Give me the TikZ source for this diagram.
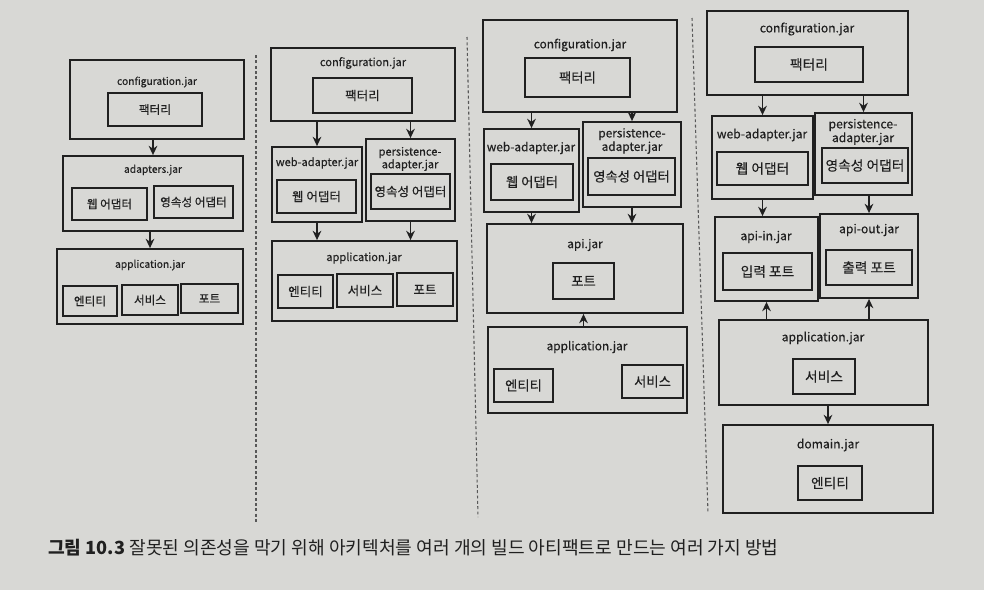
\documentclass[tikz,border=0pt]{standalone}
\usepackage{fontspec}
\setmainfont{Noto Sans CJK KR}
\newfontfamily\lblfont[FakeBold=0.35]{Noto Sans CJK KR}
\usetikzlibrary{fit,arrows.meta}
\definecolor{paper}{RGB}{216,216,213}
\definecolor{ink}{RGB}{32,32,32}
\tikzset{
  jar/.style={draw=ink, line width=1.35pt, inner sep=0pt, rectangle},
  part/.style={draw=ink, line width=1.35pt, inner sep=0pt, rectangle},
  ttl/.style={text=ink, inner sep=0pt, align=center},
  dep/.style={draw=ink, line width=1.1pt, -{Stealth[length=7pt,width=6.5pt]}},
  sepline/.style={draw=ink!75, line width=0.8pt, dash pattern=on 2.2pt off 1.8pt},
  fa/.style={font=\lblfont\fontsize{7.7}{7.4}\selectfont},
  fb/.style={font=\lblfont\fontsize{8.3}{8.2}\selectfont},
  fc/.style={font=\lblfont\fontsize{8.9}{8.8}\selectfont},
  fd/.style={font=\lblfont\fontsize{9.1}{8.6}\selectfont},
  ka/.style={ttl, font=\lblfont\fontsize{8.7}{9}\selectfont},
  kb/.style={ttl, font=\lblfont\fontsize{9.4}{9}\selectfont},
  kc/.style={ttl, font=\lblfont\fontsize{10}{10}\selectfont},
  kd/.style={ttl, font=\lblfont\fontsize{10.3}{10}\selectfont},
}
\begin{document}
\begin{tikzpicture}[x=0.75pt,y=-0.75pt]
\path[fill=paper,use as bounding box] (0,0) rectangle (984,590);

% separators
\draw[sepline] (256,55) -- (256,522);
\draw[sepline] (467,37) -- (478,517);
\draw[sepline] (692,18) -- (708,513);

% ---------------- column 1
\begin{scope}[every node/.append style={fa}]
\node[jar, fit={(70,60) (244,139)}] (c1cfg) {};
\node[ttl] (c1cfgT) at (157,82) {configuration.jar};
\node[part, fit={(108,93) (202,126)}, label={[ka]center:팩터리}] (c1fac) {};
\node[jar, fit={(63,156) (243,231)}] (c1ad) {};
\node[ttl] (c1adT) at (153,170) {adapters.jar};
\node[part, fit={(72,188) (147,220)}, label={[ka]center:웹 어댑터}] (c1web) {};
\node[part, fit={(154,186) (233,218)}, label={[ka]center:영속성 어댑터}] (c1per) {};
\node[jar, fit={(57,249) (243,324)}] (c1app) {};
\node[ttl] (c1appT) at (150,265) {application.jar};
\node[part, fit={(63,286) (117,316)}, label={[ka]center:엔티티}] (c1ent) {};
\node[part, fit={(122,285) (178,315)}, label={[ka]center:서비스}] (c1svc) {};
\node[part, fit={(181,284) (238,313)}, label={[ka]center:포트}] (c1port) {};
\end{scope}
\draw[dep] (c1cfg.south -| c1ad.north) -- (c1ad.north);
\draw[dep] (c1ad.south -| c1app.north) -- (c1app.north);

% ---------------- column 2
\begin{scope}[every node/.append style={fb}]
\node[jar, fit={(271,48) (455,121)}] (c2cfg) {};
\node[ttl] (c2cfgT) at (363,63) {configuration.jar};
\node[part, fit={(313,78) (412,113)}, label={[kb]center:팩터리}] (c2fac) {};
\node[jar, fit={(272,147) (362,222)}] (c2web) {};
\node[ttl] (c2webT) at (317,163) {web-adapter.jar};
\node[part, fit={(277,180) (356,213)}, label={[kb]center:웹 어댑터}] (c2wa) {};
\node[jar, fit={(366,139) (455,221)}] (c2per) {};
\node[ttl] (c2perT) at (410,159) {persistence-\\adapter.jar};
\node[part, fit={(371,174) (450,209)}, label={[kb]center:영속성 어댑터}] (c2pa) {};
\node[jar, fit={(272,241) (457,321)}] (c2app) {};
\node[ttl] (c2appT) at (364,258) {application.jar};
\node[part, fit={(278,275) (333,308)}, label={[kb]center:엔티티}] (c2ent) {};
\node[part, fit={(337,274) (393,307)}, label={[kb]center:서비스}] (c2svc) {};
\node[part, fit={(397,273) (453,306)}, label={[kb]center:포트}] (c2port) {};
\end{scope}
\draw[dep] (c2cfg.south -| c2web.north) -- (c2web.north);
\draw[dep] (c2cfg.south -| c2per.north) -- (c2per.north);
\draw[dep] (c2web.south) -- (c2web.south |- c2app.north);
\draw[dep] (c2per.south) -- (c2per.south |- c2app.north);

% ---------------- column 3
\begin{scope}[every node/.append style={fc}]
\node[jar, fit={(483,20) (677,112)}] (c3cfg) {};
\node[ttl] (c3cfgT) at (580,45) {configuration.jar};
\node[part, fit={(525,58) (630,97)}, label={[kc]center:팩터리}] (c3fac) {};
\node[jar, fit={(484,129) (579,212)}] (c3web) {};
\node[ttl] (c3webT) at (531,148) {web-adapter.jar};
\node[part, fit={(491,164) (573,200)}, label={[kc]center:웹 어댑터}] (c3wa) {};
\node[jar, fit={(583,122) (681,207)}] (c3per) {};
\node[ttl] (c3perT) at (632,141) {persistence-\\adapter.jar};
\node[part, fit={(588,158) (675,195)}, label={[kc]center:영속성 어댑터}] (c3pa) {};
\node[jar, fit={(487,224) (683,313)}] (c3api) {};
\node[ttl] (c3apiT) at (585,245) {api.jar};
\node[part, fit={(553,263) (614,299)}, label={[kc]center:포트}] (c3port) {};
\node[jar, fit={(488,327) (687,413)}] (c3app) {};
\node[ttl] (c3appT) at (587,347) {application.jar};
\node[part, fit={(494,369) (553,402)}, label={[kc]center:엔티티}] (c3ent) {};
\node[part, fit={(622,365) (683,398)}, label={[kc]center:서비스}] (c3svc) {};
\end{scope}
\draw[dep] (c3cfg.south -| c3web.north) -- (c3web.north);
\draw[dep] (c3cfg.south -| c3per.north) -- (c3per.north);
\draw[dep] (c3web.south) -- (c3web.south |- c3api.north);
\draw[dep] (c3per.south) -- (c3per.south |- c3api.north);
\draw[dep] (c3app.north -| c3port.south) -- (c3api.south -| c3port.south);

% ---------------- column 4
\begin{scope}[every node/.append style={fd}]
\node[jar, fit={(707,11) (908,95)}] (c4cfg) {};
\node[ttl] (c4cfgT) at (807,29) {configuration.jar};
\node[part, fit={(755,47) (863,82)}, label={[kd]center:팩터리}] (c4fac) {};
\node[jar, fit={(712,116) (813,199)}] (c4web) {};
\node[ttl] (c4webT) at (762,135) {web-adapter.jar};
\node[part, fit={(717,152) (808,185)}, label={[kd]center:웹 어댑터}] (c4wa) {};
\node[jar, fit={(815,113) (912,195)}] (c4per) {};
\node[ttl] (c4perT) at (863,132) {persistence-\\adapter.jar};
\node[part, fit={(822,148) (908,183)}, label={[kd]center:영속성 어댑터}] (c4pa) {};
\node[jar, fit={(715,217) (818,301)}] (c4in) {};
\node[ttl] (c4inT) at (766,237) {api-in.jar};
\node[part, fit={(723,253) (812,290)}, label={[kd]center:입력 포트}] (c4inp) {};
\node[jar, fit={(820,214) (918,298)}] (c4out) {};
\node[ttl] (c4outT) at (869,230) {api-out.jar};
\node[part, fit={(826,250) (912,285)}, label={[kd]center:출력 포트}] (c4outp) {};
\node[jar, fit={(719,320) (928,405)}] (c4app) {};
\node[ttl] (c4appT) at (823,338) {application.jar};
\node[part, fit={(793,359) (855,394)}, label={[kd]center:서비스}] (c4svc) {};
\node[jar, fit={(723,425) (933,513)}] (c4dom) {};
\node[ttl] (c4domT) at (828,445) {domain.jar};
\node[part, fit={(798,466) (862,500)}, label={[kd]center:엔티티}] (c4ent) {};
\end{scope}
\draw[dep] (c4cfg.south -| c4web.north) -- (c4web.north);
\draw[dep] (c4cfg.south -| c4per.north) -- (c4per.north);
\draw[dep] (c4web.south) -- (c4web.south |- c4in.north);
\draw[dep] (c4per.south -| c4out.north) -- (c4out.north);
\draw[dep] (c4app.north -| c4in.south) -- (c4in.south);
\draw[dep] (c4app.north -| c4out.south) -- (c4out.south);
\draw[dep] (c4app.south -| c4dom.north) -- (c4dom.north);

% caption
\node[ttl, anchor=west, font=\fontsize{13.6}{15}\selectfont] (cap) at (48,548)
  {{\bfseries 그림 10.3} 잘못된 의존성을 막기 위해 아키텍처를 여러 개의 빌드 아티팩트로 만드는 여러 가지 방법};
\end{tikzpicture}
\end{document}
